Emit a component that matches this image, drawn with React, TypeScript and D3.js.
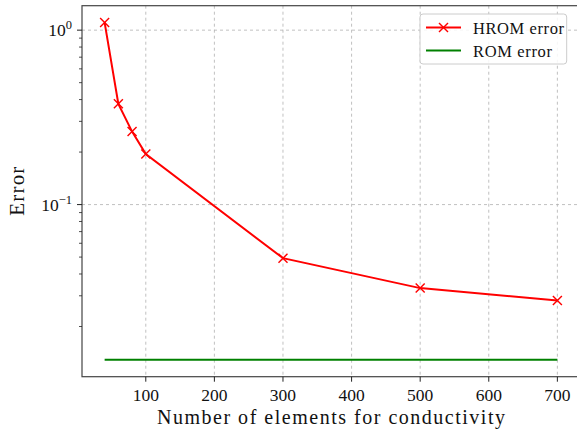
import React from "react";
import { scaleLinear, scaleLog, line } from "d3";

// data
const elements = [40, 60, 80, 100, 300, 500, 700];
const hromError = [1.105, 0.378, 0.262, 0.195, 0.0493, 0.0332, 0.0282];
const romError = [0.01288, 0.01288];
const romX = [40, 700];
const xTicks = [100, 200, 300, 400, 500, 600, 700];
const yMajor = [1, 0.1];
const yMajorExp = ["0", "\u22121"];
const yMinor = [0.02, 0.03, 0.04, 0.05, 0.06, 0.07, 0.08, 0.09, 0.2, 0.3, 0.4, 0.5, 0.6, 0.7, 0.8, 0.9];

const W = 577;
const H = 433;
const left = 82;
const right = 580;
const top = 5.7;
const bottom = 376.7;

const serif = (size: number) => ({ fontFamily: "Liberation Serif", fontSize: size + "px" });

export default function App() {
  const x = scaleLinear().domain([7, 733]).range([left, right]);
  const y = scaleLog().domain([0.01031, 1.381]).range([bottom, top]);

  const hromPts = elements.map((e, i) => [e, hromError[i]] as [number, number]);
  const romPts = romX.map((e, i) => [e, romError[i]] as [number, number]);
  const path = line<[number, number]>()
    .x(d => x(d[0]))
    .y(d => y(d[1]));

  const cross = (cx: number, cy: number, s: number, key: any) => (
    <g key={key}>
      <line x1={cx - s} y1={cy - s} x2={cx + s} y2={cy + s} stroke="red" strokeWidth={1.4} />
      <line x1={cx - s} y1={cy + s} x2={cx + s} y2={cy - s} stroke="red" strokeWidth={1.4} />
    </g>
  );

  return (
    <svg width={W} height={H} style={{ position: "absolute", left: 0, top: 0, background: "white" }}>
      <defs>
        <clipPath id="plot">
          <rect x={left} y={top} width={right - left} height={bottom - top} />
        </clipPath>
      </defs>
      {/* grid */}
      {xTicks.map(t => (
        <line key={"gx" + t} x1={x(t)} x2={x(t)} y1={top} y2={bottom}
              stroke="#b0b0b0" strokeWidth={0.8} strokeDasharray="3,3" />
      ))}
      {yMajor.map(t => (
        <line key={"gy" + t} x1={left} x2={right} y1={y(t)} y2={y(t)}
              stroke="#b0b0b0" strokeWidth={0.8} strokeDasharray="3,3" />
      ))}

      {/* series */}
      <g clipPath="url(#plot)">
        <path d={path(romPts) || ""} fill="none" stroke="green" strokeWidth={2} />
        <path d={path(hromPts) || ""} fill="none" stroke="red" strokeWidth={2} />
        {hromPts.map((d, i) => cross(x(d[0]), y(d[1]), 4.5, i))}
      </g>

      {/* spines */}
      <rect x={left} y={top} width={right - left} height={bottom - top} fill="none" stroke="#444" strokeWidth={1.2} />

      {/* x axis */}
      {xTicks.map(t => (
        <g key={"xt" + t} transform={`translate(${x(t)},${bottom})`}>
          <line y2={5} stroke="#222" strokeWidth={1} />
          <text y={24} textAnchor="middle" style={serif(17.5)} fill="#111">{t}</text>
        </g>
      ))}
      <text x={331} y={424} textAnchor="middle" style={serif(20)}
            textLength={348} lengthAdjust="spacing" fill="#111">
        Number of elements for conductivity
      </text>

      {/* y axis */}
      {yMinor.map(t => (
        <line key={"ym" + t} x1={left - 3} x2={left} y1={y(t)} y2={y(t)} stroke="#222" strokeWidth={0.8} />
      ))}
      {yMajor.map((t, i) => (
        <g key={"yt" + t} transform={`translate(${left},${y(t)})`}>
          <line x1={-5} x2={0} stroke="#222" strokeWidth={1} />
          <text x={-10} y={6} textAnchor="end" style={serif(17.5)} fill="#111">
            10<tspan dy={-7} style={serif(12.5)}>{yMajorExp[i]}</tspan>
          </text>
        </g>
      ))}
      <text transform={`translate(24,${(top + bottom) / 2}) rotate(-90)`} textAnchor="middle"
            style={serif(21)} textLength={49} lengthAdjust="spacing" fill="#111">
        Error
      </text>

      {/* legend */}
      <g>
        <rect x={420} y={14} width={146.7} height={50} rx={3} fill="white" fillOpacity={0.85}
              stroke="#cccccc" strokeWidth={1} />
        <line x1={426} x2={461} y1={27.5} y2={27.5} stroke="red" strokeWidth={2} />
        {cross(443.5, 27.5, 4.5, "lg")}
        <text x={473} y={33.5} style={serif(16.5)} textLength={91} lengthAdjust="spacing" fill="#111">
          HROM error
        </text>
        <line x1={426} x2={461} y1={50.5} y2={50.5} stroke="green" strokeWidth={2} />
        <text x={473} y={56.5} style={serif(16.5)} textLength={79} lengthAdjust="spacing" fill="#111">
          ROM error
        </text>
      </g>
    </svg>
  );
}
